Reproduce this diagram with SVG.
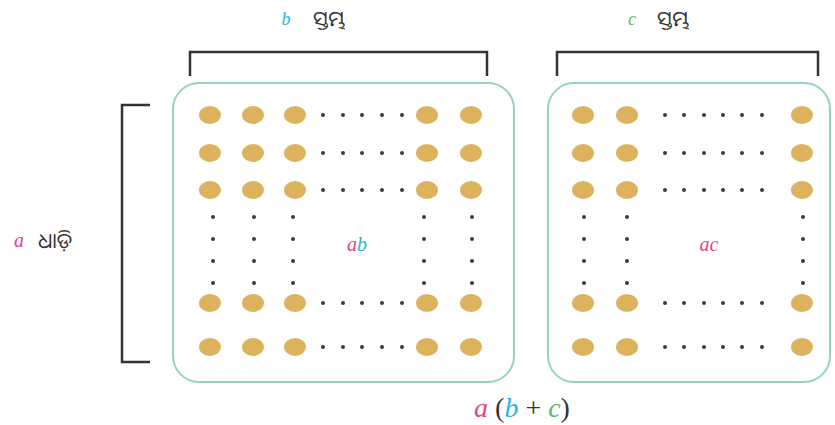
<svg xmlns="http://www.w3.org/2000/svg" width="835" height="425" viewBox="0 0 835 425">
<defs>
<style>
.box{fill:#ffffff;stroke:#93d2c4;stroke-width:2}
.br{fill:none;stroke:#333333;stroke-width:2.5}
.big{fill:#dcb25c}
.sm{fill:#3a3a3a}
.lbl{font-family:"Noto Sans Oriya","Noto Sans","DejaVu Sans",sans-serif;font-size:21px;fill:#333333}
.m{font-family:"Liberation Serif",serif;font-style:italic}
.a{fill:#e8418b}
.b{fill:#2bb3e3}
.c{fill:#59b86a}
</style>
<ellipse id="B" rx="11" ry="9"/>
<circle id="S" r="2"/>
</defs>
<rect width="835" height="425" fill="#ffffff"/>
<g id="brackets">
<path class="br" d="M190 76 V52 H487 V76"/>
<path class="br" d="M557 76 V52 H818 V76"/>
<path class="br" d="M150 105 H122 V362 H150"/>
</g>
<g id="left-box">
<rect class="box" x="173" y="83" width="341" height="299" rx="26"/>
<g class="big">
<use href="#B" x="210" y="115"/><use href="#B" x="253" y="115"/><use href="#B" x="295" y="115"/><use href="#B" x="427" y="115"/><use href="#B" x="471" y="115"/>
<use href="#B" x="210" y="153"/><use href="#B" x="253" y="153"/><use href="#B" x="295" y="153"/><use href="#B" x="427" y="153"/><use href="#B" x="471" y="153"/>
<use href="#B" x="210" y="190"/><use href="#B" x="253" y="190"/><use href="#B" x="295" y="190"/><use href="#B" x="427" y="190"/><use href="#B" x="471" y="190"/>
<use href="#B" x="210" y="303"/><use href="#B" x="253" y="303"/><use href="#B" x="295" y="303"/><use href="#B" x="427" y="303"/><use href="#B" x="471" y="303"/>
<use href="#B" x="210" y="347"/><use href="#B" x="253" y="347"/><use href="#B" x="295" y="347"/><use href="#B" x="427" y="347"/><use href="#B" x="471" y="347"/>
</g>
<g class="sm">
<use href="#S" x="323" y="115"/><use href="#S" x="343" y="115"/><use href="#S" x="362" y="115"/><use href="#S" x="382" y="115"/><use href="#S" x="402" y="115"/>
<use href="#S" x="323" y="153"/><use href="#S" x="343" y="153"/><use href="#S" x="362" y="153"/><use href="#S" x="382" y="153"/><use href="#S" x="402" y="153"/>
<use href="#S" x="323" y="190"/><use href="#S" x="343" y="190"/><use href="#S" x="362" y="190"/><use href="#S" x="382" y="190"/><use href="#S" x="402" y="190"/>
<use href="#S" x="323" y="303"/><use href="#S" x="343" y="303"/><use href="#S" x="362" y="303"/><use href="#S" x="382" y="303"/><use href="#S" x="402" y="303"/>
<use href="#S" x="323" y="347"/><use href="#S" x="343" y="347"/><use href="#S" x="362" y="347"/><use href="#S" x="382" y="347"/><use href="#S" x="402" y="347"/>
<use href="#S" x="213" y="217"/><use href="#S" x="213" y="239"/><use href="#S" x="213" y="261"/><use href="#S" x="213" y="283"/>
<use href="#S" x="254" y="217"/><use href="#S" x="254" y="239"/><use href="#S" x="254" y="261"/><use href="#S" x="254" y="283"/>
<use href="#S" x="293" y="217"/><use href="#S" x="293" y="239"/><use href="#S" x="293" y="261"/><use href="#S" x="293" y="283"/>
<use href="#S" x="424" y="217"/><use href="#S" x="424" y="239"/><use href="#S" x="424" y="261"/><use href="#S" x="424" y="283"/>
<use href="#S" x="472" y="217"/><use href="#S" x="472" y="239"/><use href="#S" x="472" y="261"/><use href="#S" x="472" y="283"/>
</g>
<text class="m" x="357" y="251" font-size="20" text-anchor="middle"><tspan class="a">a</tspan><tspan class="b">b</tspan></text>
</g>
<g id="right-box">
<rect class="box" x="548" y="83" width="282" height="299" rx="26"/>
<g class="big">
<use href="#B" x="583" y="115"/><use href="#B" x="627" y="115"/><use href="#B" x="802" y="115"/>
<use href="#B" x="583" y="153"/><use href="#B" x="627" y="153"/><use href="#B" x="802" y="153"/>
<use href="#B" x="583" y="190"/><use href="#B" x="627" y="190"/><use href="#B" x="802" y="190"/>
<use href="#B" x="583" y="303"/><use href="#B" x="627" y="303"/><use href="#B" x="802" y="303"/>
<use href="#B" x="583" y="347"/><use href="#B" x="627" y="347"/><use href="#B" x="802" y="347"/>
</g>
<g class="sm">
<use href="#S" x="665" y="115"/><use href="#S" x="684" y="115"/><use href="#S" x="704" y="115"/><use href="#S" x="723" y="115"/><use href="#S" x="742" y="115"/><use href="#S" x="762" y="115"/>
<use href="#S" x="665" y="153"/><use href="#S" x="684" y="153"/><use href="#S" x="704" y="153"/><use href="#S" x="723" y="153"/><use href="#S" x="742" y="153"/><use href="#S" x="762" y="153"/>
<use href="#S" x="665" y="190"/><use href="#S" x="684" y="190"/><use href="#S" x="704" y="190"/><use href="#S" x="723" y="190"/><use href="#S" x="742" y="190"/><use href="#S" x="762" y="190"/>
<use href="#S" x="665" y="303"/><use href="#S" x="684" y="303"/><use href="#S" x="704" y="303"/><use href="#S" x="723" y="303"/><use href="#S" x="742" y="303"/><use href="#S" x="762" y="303"/>
<use href="#S" x="665" y="347"/><use href="#S" x="684" y="347"/><use href="#S" x="704" y="347"/><use href="#S" x="723" y="347"/><use href="#S" x="742" y="347"/><use href="#S" x="762" y="347"/>
<use href="#S" x="584" y="217"/><use href="#S" x="584" y="239"/><use href="#S" x="584" y="261"/><use href="#S" x="584" y="283"/>
<use href="#S" x="627" y="217"/><use href="#S" x="627" y="239"/><use href="#S" x="627" y="261"/><use href="#S" x="627" y="283"/>
<use href="#S" x="803" y="217"/><use href="#S" x="803" y="239"/><use href="#S" x="803" y="261"/><use href="#S" x="803" y="283"/>
</g>
<text class="m a" x="709" y="251" font-size="20" text-anchor="middle">ac</text>
</g>
<g id="labels">
<text class="m b" x="286" y="25" font-size="18" text-anchor="middle">b</text>
<text class="lbl" x="313" y="26">ସ୍ତମ୍ଭ</text>
<text class="m c" x="632" y="25" font-size="18" text-anchor="middle">c</text>
<text class="lbl" x="657" y="26">ସ୍ତମ୍ଭ</text>
<text class="m a" x="19" y="247" font-size="20" text-anchor="middle">a</text>
<text class="lbl" x="38" y="248">ଧାଡ଼ି</text>
<text class="m" x="522" y="417" font-size="28" text-anchor="middle"><tspan class="a">a</tspan><tspan fill="#333333" font-style="normal"> (</tspan><tspan class="b">b</tspan><tspan fill="#333333" font-style="normal"> + </tspan><tspan class="c">c</tspan><tspan fill="#333333" font-style="normal">)</tspan></text>
</g>
</svg>
